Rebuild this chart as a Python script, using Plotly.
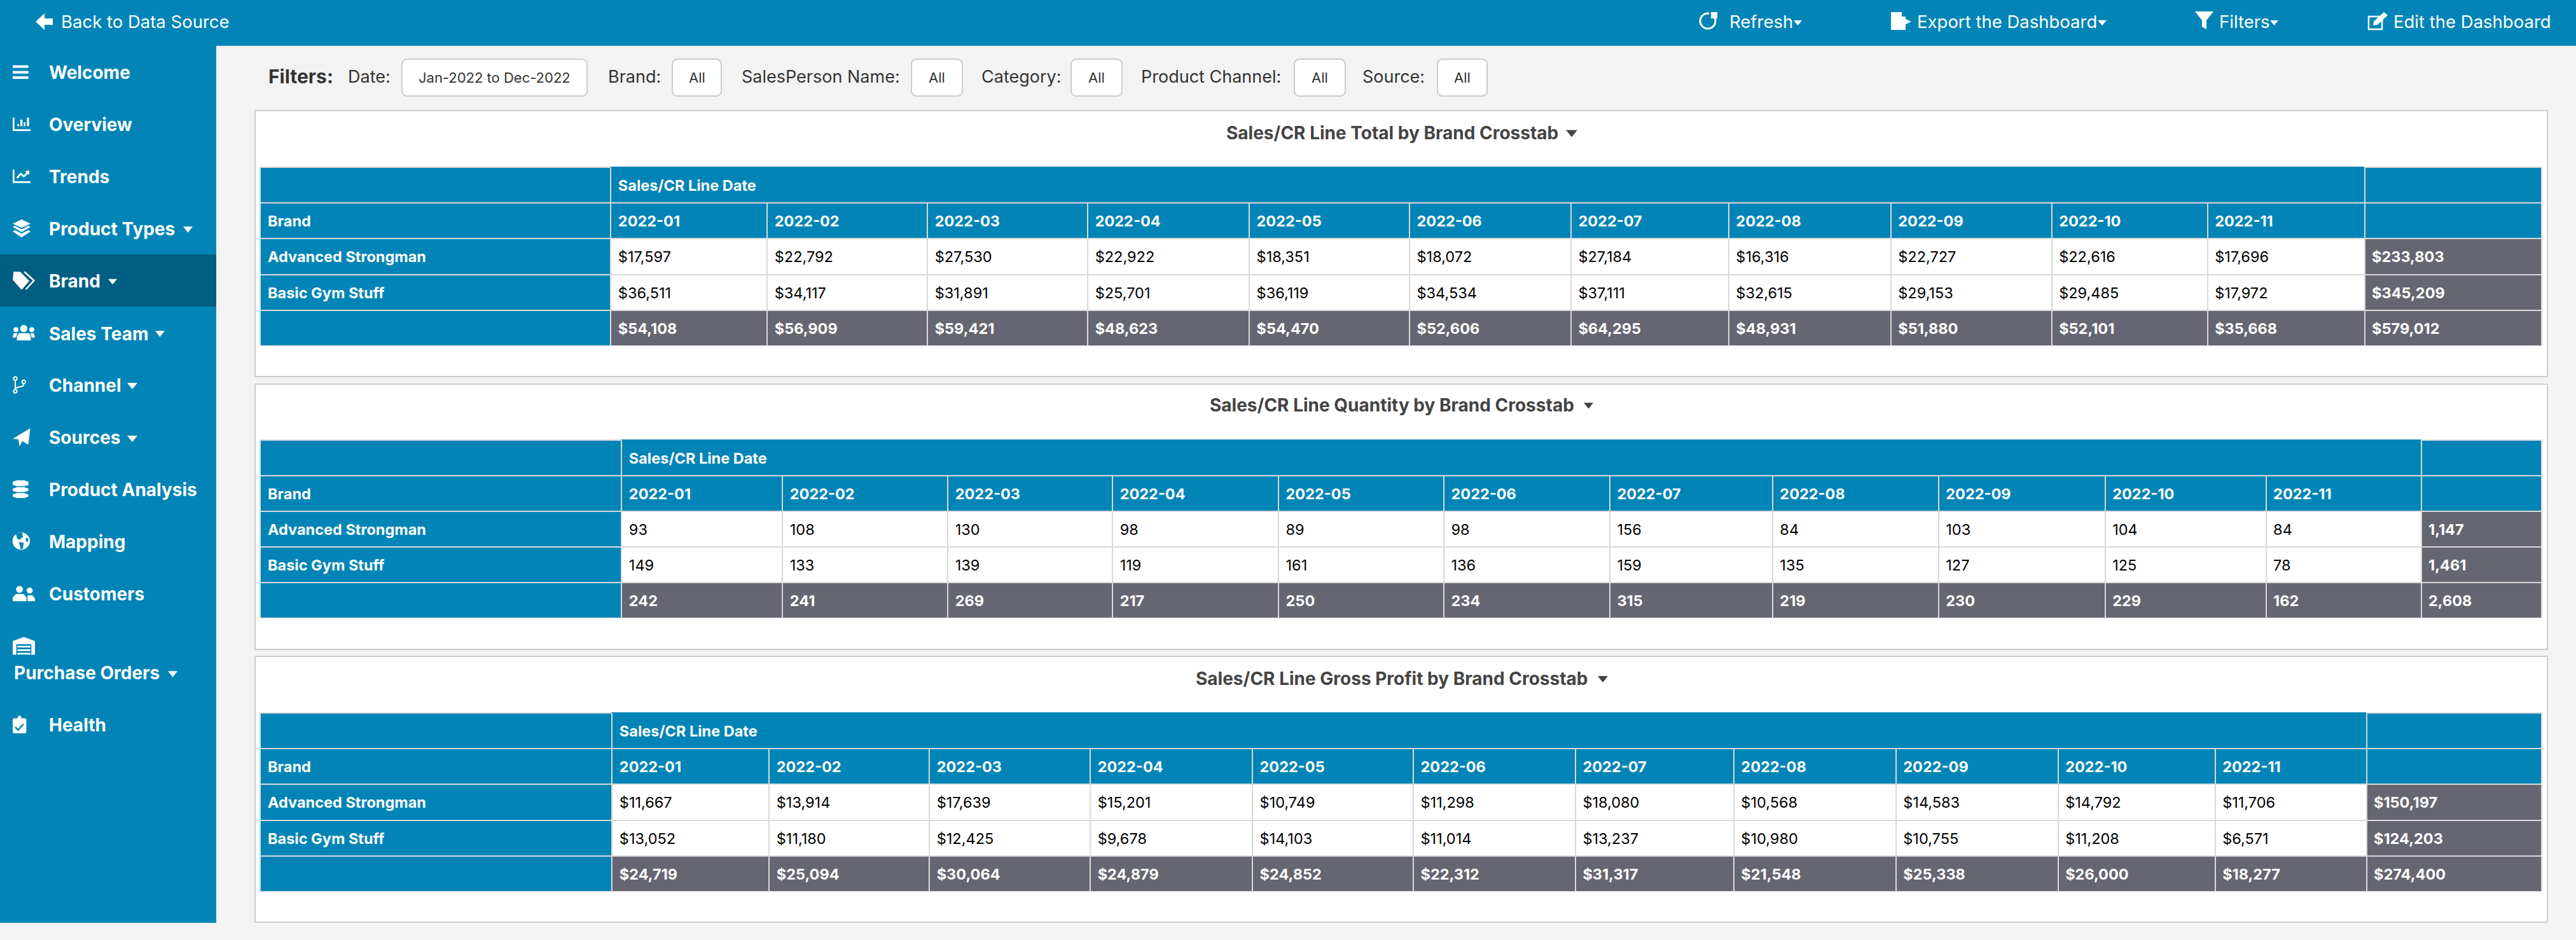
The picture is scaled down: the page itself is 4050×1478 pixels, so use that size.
import math
import plotly.graph_objects as go

W, H = 4050, 1478
BLUE = "#0285b6"
DARK_BLUE = "#005f82"
GREY = "#666673"
EDGE = "#d9d9d9"
CLEAR = "rgba(0,0,0,0)"

MONTHS = ["2022-01", "2022-02", "2022-03", "2022-04", "2022-05", "2022-06",
          "2022-07", "2022-08", "2022-09", "2022-10", "2022-11"]
BRANDS = ["Advanced Strongman", "Basic Gym Stuff"]

total_adv = [17597, 22792, 27530, 22922, 18351, 18072, 27184, 16316, 22727, 22616, 17696]
total_basic = [36511, 34117, 31891, 25701, 36119, 34534, 37111, 32615, 29153, 29485, 17972]
total_month = [54108, 56909, 59421, 48623, 54470, 52606, 64295, 48931, 51880, 52101, 35668]
total_grand = [233803, 345209, 579012]

qty_adv = [93, 108, 130, 98, 89, 98, 156, 84, 103, 104, 84]
qty_basic = [149, 133, 139, 119, 161, 136, 159, 135, 127, 125, 78]
qty_month = [242, 241, 269, 217, 250, 234, 315, 219, 230, 229, 162]
qty_grand = [1147, 1461, 2608]

gp_adv = [11667, 13914, 17639, 15201, 10749, 11298, 18080, 10568, 14583, 14792, 11706]
gp_basic = [13052, 11180, 12425, 9678, 14103, 11014, 13237, 10980, 10755, 11208, 6571]
gp_month = [24719, 25094, 30064, 24879, 24852, 22312, 31317, 21548, 25338, 26000, 18277]
gp_grand = [150197, 124203, 274400]

TITLES = ["Sales/CR Line Total by Brand Crosstab",
          "Sales/CR Line Quantity by Brand Crosstab",
          "Sales/CR Line Gross Profit by Brand Crosstab"]

SIDE_ITEMS = [("Welcome", 114, 76), ("Overview", 196, 76), ("Trends", 278, 76),
              ("Product Types", 360, 76), ("Brand", 442, 76), ("Sales Team", 525, 76),
              ("Channel", 606, 76), ("Sources", 688, 76), ("Product Analysis", 770, 76),
              ("Mapping", 852, 76), ("Customers", 934, 76), ("Purchase Orders", 1058, 21),
              ("Health", 1140, 76)]


def X(v):
    return v / W


def Y(v):
    return 1 - v / H


shapes = []
annotations = []


def rect(x0, y0, x1, y1, fill, line=None, lw=0, layer="below"):
    shapes.append(dict(type="rect", xref="paper", yref="paper", x0=X(x0), x1=X(x1), y0=Y(y0), y1=Y(y1),
                       fillcolor=fill, line=dict(color=line or fill, width=lw), layer=layer))


def path(pts, fill=None, line=None, lw=0, close=True):
    d = "M" + "L".join(f"{X(a):.6f},{Y(b):.6f}" for a, b in pts) + ("Z" if close else "")
    shapes.append(dict(type="path", xref="paper", yref="paper", path=d, fillcolor=fill or CLEAR,
                       line=dict(color=line or CLEAR, width=lw), layer="below"))


def ring(cx, cy, r, a0=0, a1=360, n=40, squash=1.0):
    return [(cx + r * math.cos(math.radians(a0 + (a1 - a0) * i / n)),
             cy + squash * r * math.sin(math.radians(a0 + (a1 - a0) * i / n))) for i in range(n + 1)]


def caret(x0, x1, y, color="white"):
    h = (x1 - x0) * 0.62
    path([(x0, y - h / 2), (x1, y - h / 2), ((x0 + x1) / 2, y + h / 2)], fill=color)


def label(text, x, y, size=22, color="white", anchor="left", family="Inter"):
    annotations.append(dict(text=text, x=X(x), y=Y(y), xref="paper", yref="paper", showarrow=False,
                            xanchor=anchor, yanchor="middle", borderpad=0,
                            font=dict(size=size, color=color, family=family)))


def money(v):
    return f"${v:,}"


def plain(v):
    return f"{v:,}"


def regular(text):
    # span keeps these cells on the same text path as the bold ones
    return "<span>%s</span>" % text


def crosstab(adv, basic, month, grand, fmt, edges, top, bottom, nudge_x=4, nudge_y=6):
    """One table for fills and rules, a second transparent one on top for the text."""
    col_vals = [["<b>%s</b>" % b for b in BRANDS] + [""]]
    col_fill = [[BLUE, BLUE, BLUE]]
    col_font = [["white"] * 3]
    for a, b, m in zip(adv, basic, month):
        col_vals.append([regular(fmt(a)), regular(fmt(b)), "<b>%s</b>" % fmt(m)])
        col_fill.append(["white", "white", GREY])
        col_font.append(["black", "black", "white"])
    col_vals.append(["<b>%s</b>" % fmt(g) for g in grand])
    col_fill.append([GREY, GREY, GREY])
    col_font.append(["white"] * 3)

    head = [["", "<b>Brand</b>"]]
    head_line = [[EDGE, EDGE]]
    for i, mth in enumerate(MONTHS):
        head.append(["<b>Sales/CR\u00a0Line\u00a0Date</b>" if i == 0 else "", "<b>%s</b>" % mth])
        head_line.append([BLUE, EDGE])
    head.append(["", ""])
    head_line.append([EDGE, EDGE])

    widths = [edges[i + 1] - edges[i] for i in range(len(edges) - 1)]
    row_h = (bottom - top) / 5
    rect(edges[1] - 1, top, edges[1] + 1, top + row_h, EDGE, layer="above")
    blanks = [[""] * 3 for _ in col_vals]
    blank_head = [["", ""] for _ in head]
    base = go.Table(
        domain=dict(x=[X(edges[0]), X(edges[-1])], y=[Y(bottom), Y(top)]),
        columnwidth=widths,
        header=dict(values=blank_head, height=row_h, fill_color=BLUE, line=dict(color=head_line, width=2)),
        cells=dict(values=blanks, height=row_h, fill_color=col_fill, line=dict(color=EDGE, width=2)),
    )
    text = go.Table(
        domain=dict(x=[X(edges[0] + nudge_x), X(edges[-1] + nudge_x)], y=[Y(bottom + nudge_y), Y(top + nudge_y)]),
        columnwidth=widths,
        header=dict(values=head, height=row_h, align="left", fill_color=CLEAR, line=dict(color=CLEAR, width=0),
                    font=dict(family="Inter", size=23.5, color="white")),
        cells=dict(values=col_vals, height=row_h, align="left", fill_color=CLEAR, line=dict(color=CLEAR, width=0),
                   font=dict(family="Inter", size=23.5, color=col_font)),
    )
    return [base, text]


# page chrome
rect(0, 0, W, 72, BLUE)
rect(0, 72, 340, 1451, BLUE)
rect(0, 400, 340, 482, DARK_BLUE)
for y0, y1 in [(174, 592), (604, 1021), (1032, 1450)]:
    rect(401, y0, 4005, y1, "white", "#cccccc", 2)

for text, y, x in SIDE_ITEMS:
    label("<b>%s</b>" % text, x, y, size=28)
for x0, x1, y in [(288, 303, 361), (170, 184, 443), (244, 259, 525), (200, 216, 607), (200, 216, 690), (264, 279, 1060)]:
    caret(x0, x1, y)

label("Back to Data Source", 95, 34, size=27.5)
label("Refresh", 2718, 34, size=27.5)
label("Export the Dashboard", 3013, 34, size=27.5)
label("Filters", 3488, 34, size=27.5)
label("Edit the Dashboard", 3762, 34, size=27.5)
for x0, x1 in [(2820, 2833), (3298, 3312), (3569, 3582)]:
    caret(x0, x1, 36)

label("<b>Filters:</b>", 421, 120, size=30, color="#333333")
for text, x in [("Date:", 546), ("Brand:", 955), ("SalesPerson Name:", 1165), ("Category:", 1542),
                ("Product Channel:", 1793), ("Source:", 2141)]:
    label(text, x, 120, size=27, color="#333333")
for text, x0, x1 in [("Jan-2022 to Dec-2022", 632, 923), ("All", 1057, 1134), ("All", 1433, 1513),
                     ("All", 1684, 1764), ("All", 2035, 2115), ("All", 2260, 2338)]:
    r = 8
    pts = ring(x0 + r, 93 + r, r, 180, 270, 6) + ring(x1 - r, 93 + r, r, 270, 360, 6) \
        + ring(x1 - r, 151 - r, r, 0, 90, 6) + ring(x0 + r, 151 - r, r, 90, 180, 6)
    path(pts, fill="white", line="#cccccc", lw=2)
    label(text, (x0 + x1) / 2, 122, size=22, color="#333333", anchor="center")

for text, x, y, c0, c1 in zip(TITLES, [1927, 1901, 1879], [209, 637, 1067], [2462, 2490, 2512], [2480, 2505, 2528]):
    label("<b>%s</b>" % text, x, y, size=28, color="#444444")
    caret(c0, c1, y + 1, color="#444444")


# icons, points
def ZA(pts):
    return [(10 + a / 3, 90 + b / 3) for a, b in pts]


def ZB(pts):
    return [(10 + a / 3, 590 + b / 2.703) for a, b in pts]


def dot(cx, cy, r):
    return ring(cx, cy, r, squash=0.9)


for y in (38, 65, 90):
    path(ZA([(30, y), (104, y), (104, y + 12), (30, y + 12)]), fill="white")
for oy in (285, 530):
    path(ZA([(30, oy), (38, oy), (38, oy + 55), (114, oy + 55), (114, oy + 63), (30, oy + 63)]), fill="white")
for x0, x1, y0 in [(52, 60, 315), (66, 76, 295), (82, 90, 307), (97, 107, 285)]:
    path(ZA([(x0, y0), (x1, y0), (x1, 325), (x0, 325)]), fill="white")
path(ZA([(50, 570), (68, 550), (82, 562), (104, 542)]), line="white", lw=3, close=False)
path(ZA([(88, 538), (108, 534), (108, 556)]), fill="white")
path(ZA([(72, 765), (114, 785), (72, 805), (30, 785)]), fill="white")
path(ZA([(30, 800), (40, 795), (72, 812), (104, 795), (114, 800), (72, 825)]), fill="white")
path(ZA([(30, 822), (40, 815), (72, 832), (104, 815), (114, 822), (72, 850)]), fill="white")
path(ZA([(34, 1012), (65, 1012), (108, 1055), (72, 1097), (30, 1050)]), fill="white")
path(ZA([(85, 1012), (130, 1053), (92, 1095)]), line="white", lw=2.5, close=False)
path(ZA(ring(82, 1280, 17)), fill="white")
path(ZA(ring(45, 1285, 12)), fill="white")
path(ZA(ring(120, 1285, 12)), fill="white")
path(ZA([(58, 1302), (108, 1302), (115, 1318), (115, 1336), (50, 1336), (50, 1318)]), fill="white")
path(ZA([(34, 1302), (52, 1302), (45, 1322), (30, 1322)]), fill="white")
path(ZA([(113, 1302), (130, 1302), (135, 1322), (120, 1322)]), fill="white")

path(ZB(dot(42, 14, 8)), line="white", lw=2)
path(ZB(dot(42, 68, 8)), line="white", lw=2)
path(ZB(dot(82, 28, 8)), line="white", lw=2)
path(ZB([(42, 22), (42, 60)]), line="white", lw=2, close=False)
path(ZB([(82, 36), (78, 46), (44, 54)]), line="white", lw=2, close=False)
path(ZB([(113, 225), (30, 270), (57, 272), (62, 302), (75, 280), (103, 295)]), fill="white")
for y0, y1 in [(447, 472), (476, 497), (501, 522)]:
    path(ZB([(30, y0 + 6), (50, y0), (84, y0), (104, y0 + 6), (104, y1 - 6), (84, y1), (50, y1), (30, y1 - 6)]),
         fill="white")
path(ZB(dot(70, 705, 41)), fill="white")
path(ZB([(45, 672), (75, 668), (78, 688), (60, 700), (50, 692)]), fill=BLUE)
path(ZB([(60, 708), (82, 712), (78, 738), (68, 740)]), fill=BLUE)
path(ZB([(92, 690), (104, 695), (100, 710), (92, 705)]), fill=BLUE)
path(ZB(dot(62, 910, 16)), fill="white")
path(ZB(dot(110, 915, 14)), fill="white")
path(ZB([(45, 930), (82, 930), (95, 945), (95, 960), (30, 960), (30, 945)]), fill="white")
path(ZB([(100, 935), (122, 935), (135, 948), (135, 960), (100, 960)]), fill="white")
path(ZB([(30, 1130), (82, 1112), (135, 1130), (135, 1188), (118, 1188), (118, 1143), (47, 1143), (47, 1188), (30, 1188)]),
     fill="white")
for y in (1150, 1165, 1180):
    path(ZB([(52, y), (114, y), (114, y + 7), (52, y + 7)]), fill="white")
path(ZB([(34, 1458), (90, 1458), (94, 1462), (94, 1518), (90, 1522), (34, 1522), (30, 1518), (30, 1462)]), fill="white")
path(ZB(dot(62, 1455, 9)), fill="white")
path(ZB([(42, 1495), (55, 1508), (80, 1483)]), line=BLUE, lw=2.5, close=False)

# top bar icons
path([(56, 34), (70, 21), (70, 29), (83, 29), (83, 39), (70, 39), (70, 47)], fill="white")
path(ring(2685, 33, 12, 340, 640, 24), line="white", lw=3, close=False)
path([(2690, 19), (2700, 19), (2700, 29), (2690, 29)], fill="white")
path([(2973, 19), (2990, 19), (2990, 26), (2996, 26), (2996, 47), (2973, 47)], fill="white")
path([(2992, 28), (3005, 34), (2992, 40)], fill="white")
path([(3451, 18), (3480, 18), (3469, 32), (3469, 46), (3462, 42), (3462, 32)], fill="white")
path([(3746, 26), (3724, 26), (3724, 46), (3745, 46), (3745, 36)], line="white", lw=2.5)
path([(3748, 19), (3754, 24), (3738, 39), (3731, 40), (3732, 34)], fill="white")

fig = go.Figure()
fig.add_traces(crosstab(total_adv, total_basic, total_month, total_grand, money,
                        [409, 960, 1206, 1458, 1710, 1964, 2216, 2470, 2718, 2973, 3226, 3471, 3718, 3996], 263, 544))
fig.add_traces(crosstab(qty_adv, qty_basic, qty_month, qty_grand, plain,
                        [409, 977, 1230, 1490, 1749, 2010, 2270, 2531, 2787, 3048, 3310, 3563, 3807, 3996], 692, 972))
fig.add_traces(crosstab(gp_adv, gp_basic, gp_month, gp_grand, money,
                        [409, 962, 1209, 1461, 1714, 1969, 2222, 2477, 2726, 2981, 3236, 3483, 3721, 3996], 1121, 1402))

fig.update_layout(width=W, height=H, margin=dict(l=0, r=0, t=0, b=0), autosize=False,
                  paper_bgcolor="#f3f3f3", plot_bgcolor="#f3f3f3", shapes=shapes, annotations=annotations,
                  showlegend=False)

fig.write_html("out.html", config={"displayModeBar": False},
               post_script="document.body.style.margin='0';")
